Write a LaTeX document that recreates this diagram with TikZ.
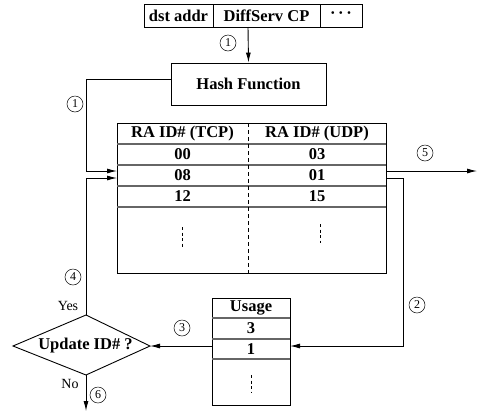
\documentclass[tikz,border=0pt]{standalone}
\usepackage{fontspec}
\setmainfont{Liberation Serif}
\usetikzlibrary{arrows.meta}
\begin{document}
\begin{tikzpicture}[x=1pt,y=-1pt,line width=0.9pt,
  bx/.style={draw,inner sep=0pt,font=\bfseries\fontsize{16.5}{18}\selectfont},
  lbl/.style={inner sep=0pt,font=\bfseries\fontsize{16.5}{18}\selectfont},
  plain/.style={inner sep=0pt,font=\fontsize{14}{16}\selectfont},
  num/.style={circle,draw,line width=0.5pt,minimum size=16pt,inner sep=0pt,font=\fontsize{12}{12}\selectfont},
  arr/.style={-{Latex[length=10pt,width=5pt]}},
  rowline/.style={line width=1.6pt,draw=black!60},
  dotline/.style={line width=0.8pt,dash pattern=on 3pt off 2.5pt}]
\useasboundingbox (0,0) rectangle (478,413);
% header fields
\node[bx,minimum width=69pt,minimum height=23pt] (hdr1) at (178.5,15.5) {dst addr};
\node[bx,minimum width=107pt,minimum height=23pt] (hdr2) at (266.5,15.5) {DiffServ CP};
\node[bx,minimum width=42pt,minimum height=23pt] (hdr3) at (341,15.5) {·\,·\,·};
% hash function
\node[bx,minimum width=155pt,minimum height=42pt] (hash) at (248.5,84) {Hash Function};
\coordinate (hs) at (248,27);
\draw[arr] (hs) -- (hash.north);
% table
\node[draw,minimum width=269pt,minimum height=150pt,inner sep=0pt] (tab) at (251.5,198) {};
\draw[rowline] (117,144) -- (386,144);
\draw[rowline] (117,165) -- (386,165);
\draw[rowline] (117,186) -- (386,186);
\draw[rowline] (117,207) -- (386,207);
\draw[line width=0.8pt,dash pattern=on 4pt off 3pt] (248,123) -- (248,273);
\node[lbl] (th1) at (182.5,133.5) {RA ID\# (TCP)};
\node[lbl] (th2) at (317,133.5) {RA ID\# (UDP)};
\node[lbl] (r1a) at (182.5,154.5) {00};
\node[lbl] (r1b) at (317,154.5) {03};
\node[lbl] (r2a) at (182.5,175.5) {08};
\node[lbl] (r2b) at (317,175.5) {01};
\node[lbl] (r3a) at (182.5,196.5) {12};
\node[lbl] (r3b) at (317,196.5) {15};
\draw[dotline] (182,227) -- (182,247);
\draw[dotline] (320,224) -- (320,243);
% usage table
\node[draw,minimum width=78pt,minimum height=107pt,inner sep=0pt] (use) at (251,351.5) {};
\draw[rowline] (212,318) -- (290,318);
\draw[rowline] (212,339) -- (290,339);
\draw[rowline] (212,359) -- (290,359);
\node[lbl] (uh) at (251,308) {Usage};
\node[lbl] (u3) at (251,328.5) {3};
\node[lbl] (u1) at (251,349) {1};
\draw[dotline] (251,375) -- (251,393);
% decision
\coordinate (dtop) at (86,315);
\coordinate (dright) at (150,346);
\coordinate (dbot) at (86,375);
\coordinate (dleft) at (13,346);
\draw (dtop) -- (dright) -- (dbot) -- (dleft) -- cycle;
\node[lbl] (dec) at (85.5,346) {Update ID\# ?};
% connector coordinates
\coordinate (hl) at (171,79);
\coordinate (c1) at (86,79);
\coordinate (in1) at (117,171);
\coordinate (in2) at (117,178);
\coordinate (out1) at (386,171);
\coordinate (out2) at (386,178);
\coordinate (end5) at (477,171);
\coordinate (c2) at (403,346);
\coordinate (ue) at (290,346);
\coordinate (uw) at (212,346);
\coordinate (end6) at (86,411);
% connectors
\draw[arr] (hl) -- (c1) |- (in1);
\draw[arr] (dtop) |- (in2);
\draw[arr] (out1) -- (end5);
\draw[arr] (out2) -| (c2) -- (ue);
\draw[arr] (uw) -- (dright);
\draw[arr] (dbot) -- (end6);
% labels
\node[plain] (yes) at (68,306) {Yes};
\node[plain] (no) at (70,384) {No};
\node[num] (n1a) at (228,43) {1};
\node[num] (n1b) at (75,104) {1};
\node[num] (n5) at (425,153) {5};
\node[num] (n2) at (417,305) {2};
\node[num] (n3) at (182,328) {3};
\node[num] (n4) at (73,277) {4};
\node[num] (n6) at (98,395) {6};
\end{tikzpicture}
\end{document}
